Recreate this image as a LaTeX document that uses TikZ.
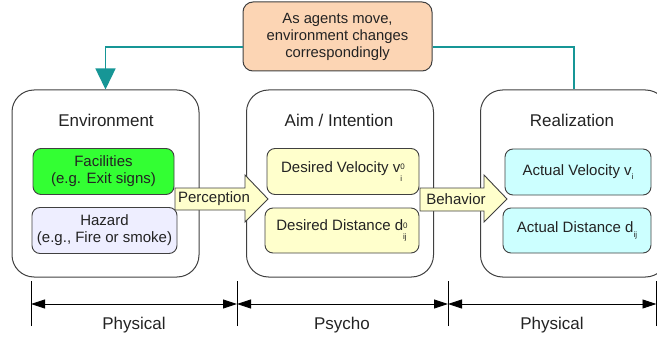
\documentclass[tikz,border=0pt]{standalone}
\usepackage{fontspec}
\setmainfont{Liberation Sans}
\usetikzlibrary{arrows.meta}
\definecolor{peach}{RGB}{252,213,180}
\definecolor{brightgreen}{RGB}{51,255,51}
\definecolor{lavender}{RGB}{238,238,255}
\definecolor{paleyellow}{RGB}{255,255,204}
\definecolor{palecyan}{RGB}{204,255,255}
\definecolor{tealline}{RGB}{22,150,150}
\definecolor{outline}{RGB}{64,64,64}
\definecolor{ink}{RGB}{35,35,35}
\newcommand{\supsub}[2]{\raisebox{-1.1ex}{\fontsize{8}{8}\selectfont\shortstack[l]{#1\\[2.5pt]#2}}}
\tikzset{
  bigbox/.style={draw=outline, line width=1pt, rounded corners=22pt, minimum width=187pt, minimum height=187pt, inner sep=0pt},
  innerbox/.style={draw=outline, line width=0.9pt, rounded corners=8pt, minimum height=46pt, inner sep=0pt, align=center, text=ink, font=\fontsize{15}{17}\selectfont},
  title/.style={text=ink, font=\fontsize{17}{20}\selectfont, inner sep=0pt},
  arrowshape/.style={draw=outline, line width=0.9pt, fill=paleyellow},
  arrowlabel/.style={text=ink, font=\fontsize{15}{17}\selectfont, inner sep=0pt},
  feedback/.style={draw=tealline, line width=1.4pt},
  dimline/.style={draw=black, line width=0.9pt, {Triangle[length=14pt,width=9pt]}-{Triangle[length=14pt,width=9pt]}},
  tick/.style={draw=black, line width=0.9pt},
  dimlabel/.style={text=ink, font=\fontsize{17}{20}\selectfont, inner sep=0pt}
}
\begin{document}
\begin{tikzpicture}[x=1pt,y=-1pt]
\useasboundingbox (0,0) rectangle (657,337);
% big boxes
\node[bigbox] (env) at (105.5,183.5) {};
\node[bigbox] (aim) at (340,183.5) {};
\node[bigbox] (real) at (574,183.5) {};
\node[title] (envt) at (106,120) {Environment};
\node[title] (aimt) at (339,120) {Aim / Intention};
\node[title] (realt) at (572,120) {Realization};
% inner boxes
\node[innerbox, fill=brightgreen, minimum width=141pt] (fac) at (103.5,171.5) {Facilities\\(e.g. Exit signs)};
\node[innerbox, fill=lavender, minimum width=145pt] (haz) at (104.5,230.5) {Hazard\\(e.g., Fire or smoke)};
\node[innerbox, fill=paleyellow, minimum width=152pt] (dv) at (343,171.5) {Desired Velocity v\supsub{0}{i}};
\node[innerbox, fill=paleyellow, minimum width=154pt, minimum height=45pt] (dd) at (342,230.5) {Desired Distance d\supsub{0}{ij}};
\node[innerbox, fill=palecyan, minimum width=146pt] (av) at (578,172) {Actual Velocity v\raisebox{-0.6ex}{\fontsize{8}{9}\selectfont i}};
\node[innerbox, fill=palecyan, minimum width=148pt, minimum height=45pt] (ad) at (577,230.5) {Actual Distance d\raisebox{-0.6ex}{\fontsize{8}{9}\selectfont ij}};
% block arrows
\draw[arrowshape] (175,188) -- (245,188) -- (245,175) -- (268,199) -- (245,222) -- (245,210) -- (175,210) -- cycle;
\node[arrowlabel] (perc) at (214,199) {Perception};
\draw[arrowshape] (420,188) -- (484,188) -- (484,175) -- (507,199) -- (484,222) -- (484,211) -- (420,211) -- cycle;
\node[arrowlabel] (beh) at (456,199) {Behavior};
% top box
\node[draw=outline, line width=1pt, fill=peach, rounded corners=10pt, minimum width=189pt, minimum height=69pt, inner sep=0pt, align=center, text=ink, font=\fontsize{14.8}{17}\selectfont] (top) at (337.5,36.5) {As agents move,\\environment changes\\correspondingly};
% feedback connectors
\draw[feedback, -{Triangle[length=21pt,width=20pt]}] ([yshift=-10.5pt]top.west) -| (env.north);
\draw[feedback] ([yshift=-10.5pt]top.east) -| (real.north);
% dimension lines
\coordinate (t1) at (31,304);
\coordinate (t2) at (237,304);
\coordinate (t3) at (448,304);
\coordinate (t4) at (656.5,304);
\foreach \c in {t1,t2,t3,t4}{
  \draw[tick] ([yshift=-22pt]\c) -- ([yshift=23pt]\c);
}
\draw[dimline] (t1) -- (t2);
\draw[dimline] (t2) -- (t3);
\draw[dimline] (t3) -- (t4);
\node[dimlabel] (ph1) at (134,325) {Physical};
\node[dimlabel] (psy) at (342,325) {Psycho};
\node[dimlabel] (ph2) at (552,325) {Physical};
\end{tikzpicture}
\end{document}
